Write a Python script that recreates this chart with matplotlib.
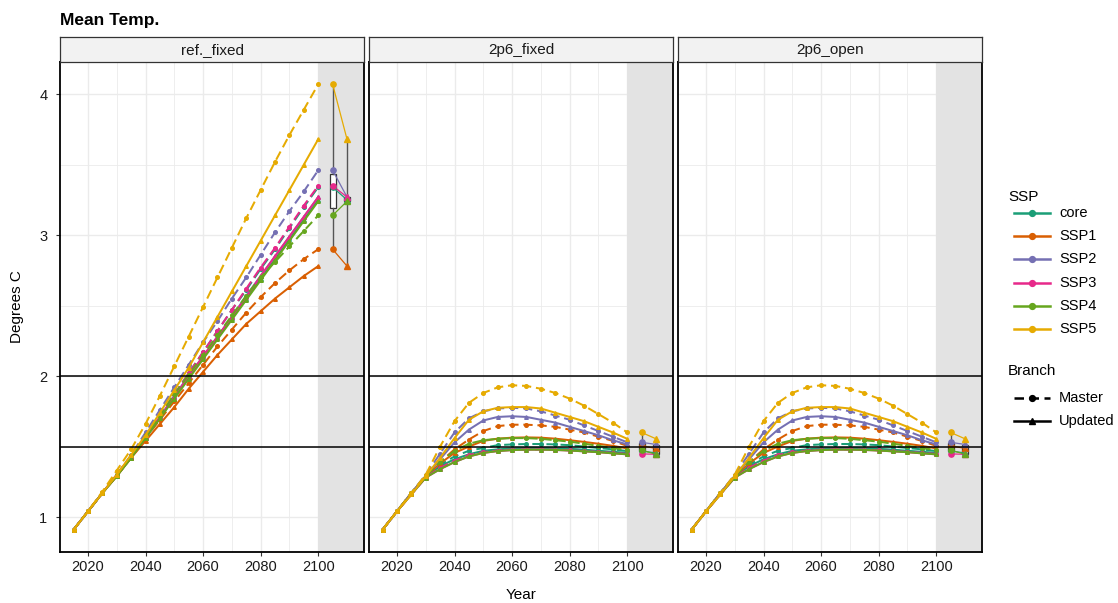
import matplotlib
matplotlib.use("Agg")
import matplotlib.pyplot as plt
from matplotlib.lines import Line2D
from matplotlib.patches import Rectangle

plt.rcParams['font.family'] = ['Liberation Sans', 'DejaVu Sans']

# ---------------------------------------------------------------- data
years = [2015, 2020, 2025, 2030, 2035, 2040, 2045, 2050, 2055,
         2060, 2065, 2070, 2075, 2080, 2085, 2090, 2095, 2100]

ssps = ["core", "SSP1", "SSP2", "SSP3", "SSP4", "SSP5"]
ssp_colors = ["#1B9E77", "#D95F02", "#7570B3", "#E7298A", "#66A61E", "#E6AB02"]

panel_names = ["ref._fixed", "2p6_fixed", "2p6_open"]

# reference scenario, fixed
ref_master_core = [0.91, 1.04, 1.17, 1.30, 1.43, 1.58, 1.72, 1.87, 2.02, 2.17, 2.32, 2.47, 2.61, 2.76, 2.90, 3.05, 3.20, 3.34]
ref_master_ssp1 = [0.91, 1.04, 1.17, 1.29, 1.42, 1.56, 1.69, 1.82, 1.95, 2.08, 2.21, 2.33, 2.45, 2.56, 2.66, 2.75, 2.83, 2.90]
ref_master_ssp2 = [0.91, 1.04, 1.17, 1.30, 1.44, 1.60, 1.76, 1.92, 2.08, 2.24, 2.39, 2.55, 2.70, 2.86, 3.02, 3.17, 3.31, 3.46]
ref_master_ssp3 = [0.91, 1.04, 1.17, 1.30, 1.43, 1.58, 1.72, 1.87, 2.02, 2.17, 2.32, 2.47, 2.62, 2.77, 2.91, 3.06, 3.21, 3.35]
ref_master_ssp4 = [0.91, 1.04, 1.17, 1.30, 1.43, 1.58, 1.72, 1.87, 2.01, 2.15, 2.29, 2.43, 2.57, 2.70, 2.81, 2.92, 3.03, 3.14]
ref_master_ssp5 = [0.91, 1.04, 1.18, 1.33, 1.48, 1.66, 1.86, 2.07, 2.28, 2.49, 2.70, 2.91, 3.12, 3.32, 3.52, 3.71, 3.89, 4.07]

ref_updated_core = [0.91, 1.04, 1.17, 1.29, 1.42, 1.56, 1.70, 1.85, 1.99, 2.13, 2.27, 2.41, 2.55, 2.69, 2.83, 2.97, 3.11, 3.25]
ref_updated_ssp1 = [0.91, 1.04, 1.17, 1.29, 1.42, 1.54, 1.66, 1.78, 1.91, 2.03, 2.15, 2.26, 2.37, 2.46, 2.55, 2.63, 2.71, 2.78]
ref_updated_ssp2 = [0.91, 1.04, 1.17, 1.30, 1.43, 1.57, 1.71, 1.86, 2.00, 2.14, 2.28, 2.42, 2.57, 2.71, 2.85, 2.99, 3.13, 3.27]
ref_updated_ssp3 = [0.91, 1.04, 1.17, 1.30, 1.43, 1.57, 1.71, 1.85, 2.00, 2.14, 2.28, 2.42, 2.56, 2.71, 2.85, 2.99, 3.13, 3.27]
ref_updated_ssp4 = [0.91, 1.04, 1.17, 1.29, 1.42, 1.56, 1.70, 1.84, 1.98, 2.12, 2.26, 2.40, 2.54, 2.68, 2.82, 2.96, 3.10, 3.24]
ref_updated_ssp5 = [0.91, 1.04, 1.17, 1.30, 1.44, 1.58, 1.74, 1.90, 2.06, 2.24, 2.42, 2.60, 2.78, 2.96, 3.14, 3.32, 3.50, 3.68]

# 2.6 W/m2 scenario (fixed and open give the same trajectories)
p26_master_core = [0.91, 1.04, 1.17, 1.29, 1.37, 1.43, 1.47, 1.49, 1.51, 1.515, 1.518, 1.518, 1.515, 1.51, 1.50, 1.49, 1.48, 1.468]
p26_master_ssp1 = [0.91, 1.04, 1.17, 1.29, 1.39, 1.48, 1.55, 1.61, 1.645, 1.655, 1.655, 1.65, 1.64, 1.62, 1.60, 1.57, 1.54, 1.505]
p26_master_ssp2 = [0.91, 1.04, 1.17, 1.30, 1.45, 1.60, 1.70, 1.75, 1.77, 1.775, 1.77, 1.75, 1.72, 1.69, 1.65, 1.61, 1.57, 1.53]
p26_master_ssp3 = [0.91, 1.04, 1.16, 1.28, 1.35, 1.40, 1.44, 1.46, 1.472, 1.478, 1.48, 1.48, 1.478, 1.474, 1.468, 1.462, 1.455, 1.448]
p26_master_ssp4 = [0.91, 1.04, 1.17, 1.29, 1.39, 1.47, 1.52, 1.545, 1.555, 1.56, 1.56, 1.555, 1.545, 1.535, 1.52, 1.505, 1.49, 1.475]
p26_master_ssp5 = [0.91, 1.04, 1.17, 1.30, 1.50, 1.68, 1.81, 1.88, 1.92, 1.935, 1.93, 1.91, 1.88, 1.84, 1.79, 1.73, 1.67, 1.60]

p26_updated_core = [0.91, 1.04, 1.17, 1.29, 1.36, 1.41, 1.445, 1.47, 1.48, 1.487, 1.49, 1.49, 1.488, 1.484, 1.478, 1.47, 1.463, 1.455]
p26_updated_ssp1 = [0.91, 1.04, 1.17, 1.29, 1.38, 1.455, 1.50, 1.54, 1.556, 1.563, 1.565, 1.563, 1.556, 1.545, 1.533, 1.52, 1.505, 1.487]
p26_updated_ssp2 = [0.91, 1.04, 1.17, 1.29, 1.41, 1.53, 1.62, 1.685, 1.71, 1.715, 1.71, 1.69, 1.67, 1.64, 1.61, 1.58, 1.545, 1.515]
p26_updated_ssp3 = [0.91, 1.04, 1.16, 1.28, 1.34, 1.39, 1.43, 1.455, 1.468, 1.475, 1.478, 1.478, 1.476, 1.472, 1.466, 1.46, 1.452, 1.445]
p26_updated_ssp4 = [0.91, 1.04, 1.16, 1.28, 1.34, 1.39, 1.43, 1.455, 1.468, 1.475, 1.478, 1.478, 1.476, 1.472, 1.466, 1.46, 1.452, 1.445]
p26_updated_ssp5 = [0.91, 1.04, 1.16, 1.29, 1.42, 1.56, 1.69, 1.75, 1.775, 1.78, 1.78, 1.77, 1.74, 1.71, 1.68, 1.64, 1.60, 1.555]

ref_master = [ref_master_core, ref_master_ssp1, ref_master_ssp2, ref_master_ssp3, ref_master_ssp4, ref_master_ssp5]
ref_updated = [ref_updated_core, ref_updated_ssp1, ref_updated_ssp2, ref_updated_ssp3, ref_updated_ssp4, ref_updated_ssp5]
p26_master = [p26_master_core, p26_master_ssp1, p26_master_ssp2, p26_master_ssp3, p26_master_ssp4, p26_master_ssp5]
p26_updated = [p26_updated_core, p26_updated_ssp1, p26_updated_ssp2, p26_updated_ssp3, p26_updated_ssp4, p26_updated_ssp5]

panel_series = {
    "ref._fixed": (ref_master, ref_updated),
    "2p6_fixed": (p26_master, p26_updated),
    "2p6_open": (p26_master, p26_updated),
}

x_ticks = [2020, 2040, 2060, 2080, 2100]
y_ticks = [1, 2, 3, 4]
thresholds = [1.5, 2.0]
end_year = 2100
box_pos_master = 2105
box_pos_updated = 2110

# ---------------------------------------------------------------- layout
W, H = 1118, 603
fig = plt.figure(figsize=(W / 100, H / 100), dpi=100)


def fbox(x0, y0, x1, y1):
    """pixel box (top-left origin) -> figure fraction rect"""
    return [x0 / W, 1 - y1 / H, (x1 - x0) / W, (y1 - y0) / H]


panel_x = [(60, 364), (369, 673), (678, 982)]
panel_top, panel_bot = 62, 552
strip_top = 37

xlim = (2010.3, 2115.9)
ylim = (0.752, 4.228)

dash = (0, (4.6, 2.4))
ms = 2.6
lw = 1.45

for i, name in enumerate(panel_names):
    x0, x1 = panel_x[i]
    ax = fig.add_axes(fbox(x0, panel_top, x1, panel_bot))
    ax.set_xlim(*xlim)
    ax.set_ylim(*ylim)

    # grid
    for gx in [2020, 2030, 2040, 2050, 2060, 2070, 2080, 2090, 2100, 2110]:
        ax.axvline(gx, color="#ebebeb", lw=1.0 if gx % 20 == 0 else 0.6, zorder=0)
    for gy in [1, 1.5, 2, 2.5, 3, 3.5, 4]:
        ax.axhline(gy, color="#ebebeb", lw=1.0 if gy == int(gy) else 0.6, zorder=0)

    # shaded 2100+ summary zone
    ax.add_patch(Rectangle((end_year, ylim[0] - 1), 50, 10, facecolor="#e3e3e3",
                           edgecolor="none", zorder=1))

    master, updated = panel_series[name]
    for k in range(len(ssps)):
        c = ssp_colors[k]
        ax.plot(years, master[k], color=c, lw=lw, linestyle=dash, marker="o",
                ms=ms, mec=c, mfc=c, zorder=3)
        ax.plot(years, updated[k], color=c, lw=lw, linestyle="-", marker="^",
                ms=ms, mec=c, mfc=c, zorder=3)

    # end-of-century boxplots
    m_end = [s[-1] for s in master]
    u_end = [s[-1] for s in updated]
    ax.boxplot([m_end, u_end], positions=[box_pos_master, box_pos_updated],
               widths=2.0, whis=(0, 100), showcaps=False, patch_artist=True,
               manage_ticks=False,
               boxprops=dict(facecolor="white", edgecolor="#333333", lw=0.9),
               whiskerprops=dict(color="#555555", lw=1.0),
               medianprops=dict(color="#333333", lw=1.2),
               flierprops=dict(marker=""), zorder=4)
    for k in range(len(ssps)):
        c = ssp_colors[k]
        ax.plot([box_pos_master, box_pos_updated], [m_end[k], u_end[k]],
                color=c, lw=0.9, zorder=5)
        ax.plot([box_pos_master], [m_end[k]], marker="o", ms=ms + 1.2,
                color=c, ls="none", zorder=6)
        ax.plot([box_pos_updated], [u_end[k]], marker="^", ms=ms + 1.4,
                color=c, ls="none", zorder=6)

    for t in thresholds:
        ax.axhline(t, color="black", lw=1.1, zorder=7)

    ax.set_xticks(x_ticks)
    ax.set_xticklabels([str(t) for t in x_ticks])
    ax.set_yticks(y_ticks)
    if i == 0:
        ax.set_yticklabels([str(t) for t in y_ticks])
    else:
        ax.tick_params(axis="y", left=False, labelleft=False)
    ax.tick_params(axis="both", length=3, width=0.8, color="#333333",
                   labelsize=10.5, labelcolor="#1a1a1a", pad=3)
    ax.tick_params(axis="y", pad=6)
    for sp in ax.spines.values():
        sp.set_color("black")
        sp.set_linewidth(1.3)
        sp.set_zorder(8)

    # facet strip
    sax = fig.add_axes(fbox(x0, strip_top, x1, panel_top))
    sax.set_xticks([])
    sax.set_yticks([])
    sax.set_facecolor("#f2f2f2")
    for sp in sax.spines.values():
        sp.set_color("#333333")
        sp.set_linewidth(0.9)
    sax.text(0.5, 0.47, name, ha="center", va="center", fontsize=11,
             color="#1a1a1a", transform=sax.transAxes)

# titles and axis labels
fig.text(60 / W, 1 - 20 / H, "Mean Temp.", fontsize=12.5, fontweight="bold",
         ha="left", va="center")
fig.text(521 / W, 1 - 595 / H, "Year", fontsize=11, ha="center", va="center")
fig.text(17 / W, 1 - 307 / H, "Degrees C", fontsize=11, ha="center",
         va="center", rotation=90)

# legend drawn in pixel coordinates
lax = fig.add_axes([0, 0, 1, 1], facecolor="none")
lax.set_xlim(0, W)
lax.set_ylim(H, 0)
lax.axis("off")

lax.text(1008, 197, "SSP", fontsize=11, ha="left", va="center")
ssp_rows = [213, 236, 259, 283, 306, 329]
for k, name in enumerate(ssps):
    y = ssp_rows[k]
    lax.add_line(Line2D([1014, 1050], [y, y], color=ssp_colors[k], lw=1.8))
    lax.add_line(Line2D([1032], [y], color=ssp_colors[k], marker="o", ms=4.2))
    lax.text(1059, y, name, fontsize=10.5, ha="left", va="center")

lax.text(1008, 371, "Branch", fontsize=11, ha="left", va="center")
lax.add_line(Line2D([1014, 1050], [398, 398], color="black", lw=1.8,
                    linestyle=(0, (3.8, 2.2))))
lax.add_line(Line2D([1032], [398], color="black", marker="o", ms=4.2))
lax.text(1059, 398, "Master", fontsize=10.5, ha="left", va="center")
lax.add_line(Line2D([1014, 1050], [421, 421], color="black", lw=1.8))
lax.add_line(Line2D([1032], [421], color="black", marker="^", ms=4.6))
lax.text(1059, 421, "Updated", fontsize=10.5, ha="left", va="center")

fig.savefig("out.png", dpi=100)
